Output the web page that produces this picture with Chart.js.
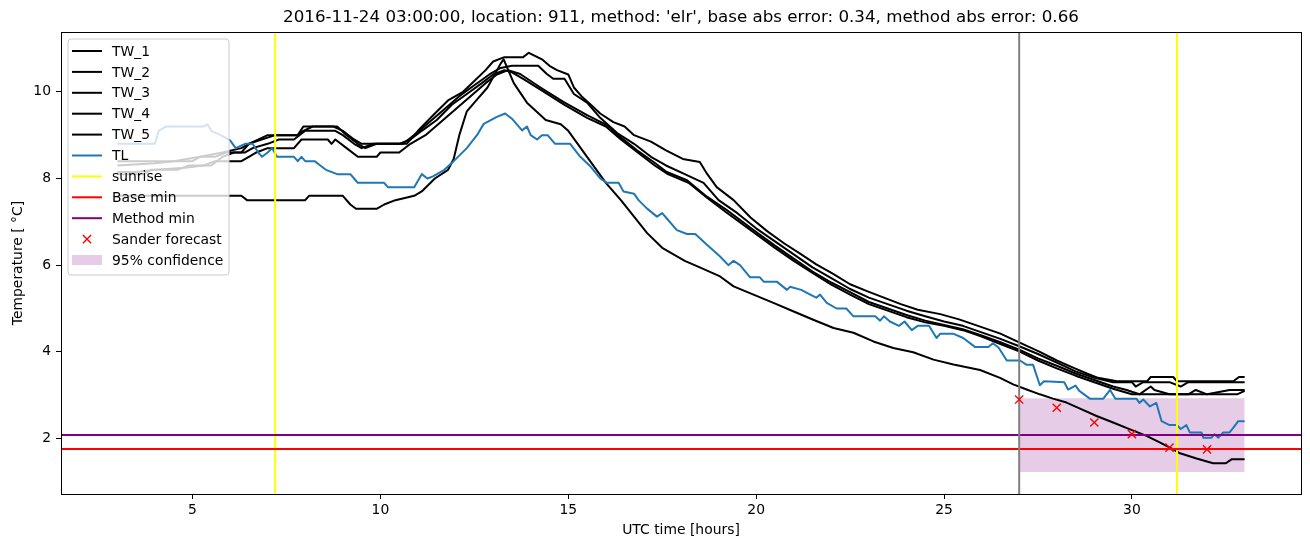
<!DOCTYPE html>
<html><head><meta charset="utf-8">
<script src="https://cdn.jsdelivr.net/npm/chart.js@4.4.0/dist/chart.umd.min.js"></script>
<style>html,body{margin:0;padding:0;background:#fff;}#wrap{width:1310px;height:547px;}</style>
</head><body><div id="wrap"><canvas id="c" width="1310" height="547"></canvas></div>
<script>
// ---------------- data ----------------
const chartTitle = "2016-11-24 03:00:00, location: 911, method: 'elr', base abs error: 0.34, method abs error: 0.66";
const xLabel = "UTC time [hours]";
const yLabel = "Temperature [ \u00B0C]";
const xTicks = [5, 10, 15, 20, 25, 30];
const yTicks = [2, 4, 6, 8, 10];

const tw1 = [[3,8.4],[5.0,8.4],[5.2,8.5],[5.8,8.6],[6.3,8.7],[6.5,8.8],[7.0,9.0],[7.8,9.0],[7.95,9.2],[8.85,9.2],[9.1,9.0],[9.4,8.8],[9.6,8.7],[9.9,8.8],[10.7,8.8],[11.0,9.1],[11.45,9.5],[11.8,9.8],[12.2,10.0],[12.5,10.25],[12.8,10.5],[13.0,10.7],[13.3,10.8],[13.8,10.8],[13.95,10.9],[14.3,10.75],[14.5,10.6],[14.7,10.5],[15.0,10.4],[15.15,10.1],[15.35,9.9],[15.6,9.7],[15.85,9.5],[16.2,9.3],[16.5,9.2],[16.75,9.0],[17.2,8.85],[17.6,8.65],[18.05,8.45],[18.5,8.38],[18.7,8.1],[18.95,7.8],[19.4,7.5],[19.85,7.1],[20.3,6.78],[20.75,6.5],[21.2,6.25],[21.6,6.02],[22.05,5.8],[22.5,5.56],[22.95,5.4],[23.4,5.25],[23.85,5.1],[24.3,4.97],[24.9,4.87],[25.4,4.75],[26.0,4.57],[26.5,4.42],[27.0,4.22],[27.55,4.0],[28.0,3.8],[28.45,3.63],[28.8,3.5],[29.1,3.4],[29.6,3.32],[30.4,3.32],[30.5,3.42],[31.1,3.42],[31.2,3.32],[32.7,3.32],[32.85,3.42],[33,3.42]];
const tw2 = [[3,8.3],[4.0,8.35],[4.5,8.4],[5.2,8.5],[5.6,8.5],[5.9,8.6],[6.3,8.6],[6.5,8.8],[7.2,9.0],[7.8,9.0],[7.95,9.1],[8.2,9.2],[8.75,9.2],[9.0,9.1],[9.3,8.9],[9.5,8.8],[10.6,8.8],[10.9,9.0],[11.3,9.3],[11.7,9.6],[12.1,9.9],[12.5,10.15],[12.9,10.4],[13.2,10.55],[13.5,10.6],[14.2,10.6],[14.43,10.41],[14.6,10.3],[14.9,10.3],[15.15,9.95],[15.5,9.75],[15.85,9.4],[16.3,9.05],[16.75,8.8],[17.2,8.5],[17.6,8.3],[18.1,8.1],[18.6,7.9],[19.0,7.5],[19.5,7.2],[20,6.85],[20.5,6.55],[21,6.25],[21.5,5.95],[22,5.7],[22.5,5.45],[23,5.25],[23.5,5.1],[24,4.95],[24.5,4.82],[25,4.7],[25.5,4.6],[26,4.45],[26.5,4.3],[27,4.13],[27.5,3.95],[28,3.75],[28.5,3.55],[29,3.4],[29.5,3.3],[30,3.3],[30.1,3.2],[30.3,3.3],[31,3.3],[31.3,3.2],[31.5,3.3],[33,3.3]];
const tw3 = [[3,8.15],[3.5,8.15],[4.0,8.2],[4.8,8.25],[5.3,8.3],[5.6,8.4],[6.3,8.4],[6.5,8.5],[6.7,8.6],[7.0,8.7],[7.7,8.7],[7.9,8.9],[8.6,8.9],[8.7,8.8],[8.8,8.9],[9.1,8.7],[9.4,8.5],[9.9,8.5],[10.0,8.6],[10.5,8.6],[10.8,8.8],[11.2,9.0],[11.6,9.3],[12.0,9.6],[12.4,9.9],[12.8,10.2],[13.1,10.4],[13.4,10.5],[13.72,10.41],[14.26,10.1],[14.88,9.76],[15.5,9.46],[16.03,9.23],[16.38,8.96],[16.83,8.65],[17.27,8.38],[17.62,8.15],[18.16,7.96],[18.69,7.58],[19.22,7.27],[19.93,6.81],[20.5,6.45],[21,6.15],[21.5,5.85],[22,5.6],[22.5,5.38],[23,5.15],[23.5,5.0],[24,4.85],[24.5,4.72],[25,4.62],[25.5,4.52],[26,4.38],[26.5,4.22],[27,4.05],[27.5,3.85],[28,3.68],[28.5,3.5],[29,3.35],[29.5,3.2],[29.86,3.12],[30.2,3.02],[30.5,3.2],[30.6,3.12],[31,3.02],[31.5,3.02],[31.7,3.12],[32,3.02],[32.6,3.12],[33,3.12]];
const tw4 = [[3,8.1],[3.7,8.1],[3.9,8.2],[4.6,8.2],[4.9,8.3],[5.5,8.3],[5.8,8.5],[6.1,8.6],[6.4,8.6],[6.6,8.7],[7.0,8.8],[7.3,8.9],[7.7,8.9],[8.0,9.1],[8.8,9.1],[9.0,9.0],[9.3,8.8],[9.5,8.7],[9.8,8.8],[10.5,8.8],[10.8,8.9],[11.1,9.1],[11.5,9.35],[11.9,9.7],[12.3,9.95],[12.7,10.2],[13.0,10.4],[13.3,10.5],[13.5,10.45],[13.8,10.3],[14.26,10.05],[14.9,9.7],[15.5,9.4],[16.0,9.2],[16.4,8.9],[16.85,8.6],[17.3,8.3],[17.65,8.1],[18.2,7.9],[18.7,7.55],[19.2,7.22],[19.9,6.78],[20.5,6.4],[21,6.1],[21.5,5.82],[22,5.55],[22.5,5.32],[23,5.1],[23.5,4.95],[24,4.8],[24.5,4.68],[25,4.6],[25.5,4.5],[26,4.35],[26.5,4.18],[27,4.01],[27.5,3.8],[28,3.62],[28.5,3.45],[29,3.3],[29.5,3.15],[30,3.02],[31,3.02],[32,3.02],[32.8,3.02],[33,3.1]];
const tw5 = [[3,7.6],[6.3,7.6],[6.45,7.5],[8.0,7.5],[8.1,7.6],[9.0,7.6],[9.2,7.4],[9.35,7.3],[9.9,7.3],[10.1,7.4],[10.4,7.5],[10.9,7.6],[11.1,7.7],[11.45,8.0],[11.8,8.2],[11.95,8.45],[12.1,9.0],[12.3,9.55],[12.5,9.75],[12.85,10.1],[13.2,10.65],[13.28,10.75],[13.55,10.2],[13.9,9.75],[14.4,9.35],[14.8,9.25],[15.0,9.1],[15.5,8.5],[16.0,7.9],[16.4,7.5],[16.75,7.12],[17.1,6.74],[17.5,6.4],[18.1,6.1],[18.5,5.95],[19.04,5.74],[19.4,5.51],[19.93,5.32],[20.46,5.13],[21.0,4.93],[21.52,4.74],[22.06,4.55],[22.59,4.44],[23.12,4.24],[23.65,4.09],[24.18,3.99],[24.72,3.82],[25.25,3.71],[25.96,3.58],[26.49,3.4],[26.84,3.25],[27.2,3.13],[27.55,3.02],[27.9,2.92],[28.26,2.83],[28.62,2.69],[29.06,2.52],[29.5,2.37],[29.95,2.21],[30.39,2.06],[30.74,1.91],[31.1,1.75],[31.28,1.66],[31.72,1.54],[32.16,1.43],[32.5,1.43],[32.65,1.52],[33,1.52]];
const tl = [[3,8.8],[4.0,8.8],[4.1,9.1],[4.3,9.2],[5.3,9.2],[5.4,9.25],[5.5,9.1],[5.75,9.0],[6.0,8.88],[6.15,8.7],[6.4,8.8],[6.6,8.8],[6.75,8.6],[6.85,8.5],[7.0,8.6],[7.12,8.7],[7.25,8.5],[7.7,8.5],[7.8,8.4],[7.9,8.5],[8.0,8.4],[8.25,8.4],[8.4,8.3],[8.55,8.2],[8.85,8.1],[9.2,8.1],[9.3,8.0],[9.4,7.9],[10.1,7.9],[10.2,7.8],[10.9,7.8],[11.1,8.1],[11.25,8.0],[11.4,8.05],[11.7,8.2],[11.95,8.4],[12.3,8.7],[12.57,9.0],[12.75,9.26],[13.1,9.42],[13.32,9.5],[13.5,9.38],[13.77,9.11],[13.9,9.2],[14.0,9.0],[14.17,8.9],[14.3,9.0],[14.45,9.0],[14.65,8.8],[15.05,8.8],[15.32,8.5],[15.6,8.27],[15.85,8.0],[16.03,7.9],[16.34,7.9],[16.47,7.7],[16.75,7.65],[16.87,7.5],[17.09,7.31],[17.36,7.12],[17.5,7.2],[17.6,7.1],[17.89,6.81],[18.16,6.72],[18.38,6.72],[18.69,6.47],[19.04,6.2],[19.26,6.0],[19.4,6.1],[19.57,6.0],[19.84,5.72],[20.1,5.72],[20.2,5.62],[20.55,5.62],[20.82,5.43],[20.9,5.5],[21.2,5.43],[21.44,5.32],[21.6,5.25],[21.7,5.32],[21.88,5.13],[22.14,5.0],[22.4,5.0],[22.59,4.82],[23.17,4.82],[23.3,4.72],[23.4,4.82],[23.56,4.7],[23.8,4.6],[23.95,4.7],[24.14,4.5],[24.3,4.6],[24.6,4.6],[24.8,4.32],[24.9,4.42],[25.24,4.42],[25.51,4.32],[25.83,4.11],[26.18,4.11],[26.3,4.2],[26.45,4.1],[26.67,3.8],[27.02,3.8],[27.2,3.7],[27.37,3.7],[27.55,3.23],[27.66,3.32],[28.2,3.3],[28.3,3.13],[28.5,3.22],[28.6,3.1],[28.88,2.92],[29.24,2.92],[29.42,3.12],[29.56,2.92],[30.12,2.92],[30.2,2.82],[30.3,2.9],[30.48,2.74],[30.65,2.82],[30.79,2.4],[31.0,2.31],[31.2,2.31],[31.3,2.22],[31.45,2.31],[31.54,2.14],[31.85,2.14],[31.9,2.02],[32.12,2.02],[32.2,2.1],[32.3,2.02],[32.43,2.14],[32.6,2.14],[32.7,2.25],[32.83,2.4],[33.0,2.4]];

const sunriseHours = [7.2, 31.2];
const forecastHour = 27;
const baseMin = 1.76;
const methodMin = 2.08;
const sanderHours = [27, 28, 29, 30, 31, 32];
const sanderTemp = [2.90, 2.71, 2.37, 2.10, 1.79, 1.75];
const confHours = [27, 33];
const confLow = [1.23, 1.23];
const confHigh = [2.93, 2.93];

// ---------------- chart ----------------
const X_MIN = 1.5, X_MAX = 34.5, Y_MIN = 0.72, Y_MAX = 11.38;
const FONT = "'DejaVu Sans', 'Liberation Sans', sans-serif";
const pts = a => a.map(p => ({x: p[0], y: p[1]}));
const vline = x => [{x: x, y: Y_MIN}, {x: x, y: Y_MAX}];
const hline = y => [{x: X_MIN, y: y}, {x: X_MAX, y: y}];

const lineDs = (label, data, color, legend, order) => ({
  label, data, borderColor: color, backgroundColor: color, borderWidth: 2,
  pointRadius: 0, fill: false, tension: 0, order, legendKind: legend ? 'line' : null
});

let ord = 100;
const datasets = [
  {label: 'confLow', data: confHours.map((h, i) => ({x: h, y: confLow[i]})), borderWidth: 0, pointRadius: 0, fill: false, order: 200, showLine: true, borderColor: 'rgba(0,0,0,0)'},
  {label: '95% confidence', data: confHours.map((h, i) => ({x: h, y: confHigh[i]})), borderWidth: 0, pointRadius: 0,
   fill: 0, backgroundColor: 'rgba(128,0,128,0.2)', borderColor: 'rgba(0,0,0,0)', order: 199, legendKind: 'patch', legendIndex: 10},
  Object.assign(lineDs('TW_1', pts(tw1), '#000000', true, ord--), {legendIndex: 0}),
  Object.assign(lineDs('TW_2', pts(tw2), '#000000', true, ord--), {legendIndex: 1}),
  Object.assign(lineDs('TW_3', pts(tw3), '#000000', true, ord--), {legendIndex: 2}),
  Object.assign(lineDs('TW_4', pts(tw4), '#000000', true, ord--), {legendIndex: 3}),
  Object.assign(lineDs('TW_5', pts(tw5), '#000000', true, ord--), {legendIndex: 4}),
  Object.assign(lineDs('TL', pts(tl), '#1f77b4', true, ord--), {legendIndex: 5}),
  Object.assign(lineDs('sunrise', vline(sunriseHours[0]), '#ffff00', true, ord--), {legendIndex: 6}),
  lineDs('sunrise 2', vline(sunriseHours[1]), '#ffff00', false, ord--),
  Object.assign(lineDs('Base min', hline(baseMin), '#ff0000', true, ord--), {legendIndex: 7}),
  Object.assign(lineDs('Method min', hline(methodMin), '#800080', true, ord--), {legendIndex: 8}),
  lineDs('forecast time', vline(forecastHour), '#808080', false, ord--),
  {label: 'Sander forecast', data: sanderHours.map((h, i) => ({x: h, y: sanderTemp[i]})), showLine: false,
   pointStyle: 'crossRot', pointRadius: 5.8, pointHoverRadius: 5.8, pointBorderWidth: 1.4, borderColor: '#ff0000',
   backgroundColor: '#ff0000', order: ord--, legendKind: 'marker', legendIndex: 9}
];

const decor = {
  id: 'decor',
  afterDatasetsDraw(chart) {
    const {ctx, chartArea: a} = chart;
    ctx.save();
    ctx.strokeStyle = '#000'; ctx.lineWidth = 1;
    ctx.strokeRect(Math.round(a.left) + 0.5, Math.round(a.top) + 0.5, Math.round(a.right - a.left), Math.round(a.bottom - a.top));
    ctx.restore();
  },
  afterDraw(chart) {
    const {ctx, chartArea: a} = chart;
    ctx.save();
    // title
    ctx.fillStyle = '#000';
    ctx.font = '16.7px ' + FONT;
    ctx.textAlign = 'center'; ctx.textBaseline = 'middle';
    ctx.fillText(chartTitle, (a.left + a.right) / 2, 18);
    // legend
    const lx = a.left + 7, ly = a.top + 7, lw = 161, lh = 236, r = 3;
    ctx.beginPath();
    ctx.moveTo(lx + r, ly); ctx.lineTo(lx + lw - r, ly); ctx.arcTo(lx + lw, ly, lx + lw, ly + r, r);
    ctx.lineTo(lx + lw, ly + lh - r); ctx.arcTo(lx + lw, ly + lh, lx + lw - r, ly + lh, r);
    ctx.lineTo(lx + r, ly + lh); ctx.arcTo(lx, ly + lh, lx, ly + lh - r, r);
    ctx.lineTo(lx, ly + r); ctx.arcTo(lx, ly, lx + r, ly, r); ctx.closePath();
    ctx.fillStyle = 'rgba(255,255,255,0.8)'; ctx.fill();
    ctx.strokeStyle = '#cccccc'; ctx.lineWidth = 1; ctx.stroke();
    const items = chart.data.datasets.filter(d => d.legendKind).sort((p, q) => p.legendIndex - q.legendIndex);
    ctx.font = '13.9px ' + FONT; ctx.textAlign = 'left'; ctx.textBaseline = 'middle';
    items.forEach((d, i) => {
      const cy = ly + 12 + i * 20.9;
      const hx0 = lx + 4, hx1 = lx + 34;
      if (d.legendKind === 'line') {
        ctx.strokeStyle = d.borderColor; ctx.lineWidth = 2;
        ctx.beginPath(); ctx.moveTo(hx0, cy); ctx.lineTo(hx1, cy); ctx.stroke();
      } else if (d.legendKind === 'marker') {
        const cx = (hx0 + hx1) / 2, s = 4.1;
        ctx.strokeStyle = d.borderColor; ctx.lineWidth = 1.4;
        ctx.beginPath(); ctx.moveTo(cx - s, cy - s); ctx.lineTo(cx + s, cy + s);
        ctx.moveTo(cx - s, cy + s); ctx.lineTo(cx + s, cy - s); ctx.stroke();
      } else if (d.legendKind === 'patch') {
        ctx.fillStyle = d.backgroundColor; ctx.fillRect(hx0, cy - 5, hx1 - hx0, 10);
      }
      ctx.fillStyle = '#000';
      ctx.fillText(d.label, lx + 44, cy + 1);
    });
    ctx.restore();
  }
};

new Chart(document.getElementById('c'), {
  type: 'line',
  data: {datasets},
  options: {
    responsive: false, animation: false, devicePixelRatio: 1,
    layout: {padding: {top: 32, right: 9, left: 0, bottom: 0}},
    plugins: {legend: {display: false}, title: {display: false}, tooltip: {enabled: false}},
    elements: {line: {borderCapStyle: 'butt', borderJoinStyle: 'round'}},
    scales: {
      x: {
        type: 'linear', min: X_MIN, max: X_MAX,
        afterBuildTicks: s => { s.ticks = xTicks.map(v => ({value: v})); },
        afterFit: s => { s.height = 53; },
        ticks: {color: '#000', font: {family: FONT, size: 13.9}, padding: 3, maxRotation: 0, autoSkip: false},
        grid: {display: true, drawOnChartArea: false, drawTicks: true, tickLength: 5, tickColor: '#000', tickWidth: 1},
        border: {display: false},
        title: {display: true, text: xLabel, color: '#000', font: {family: FONT, size: 13.9}, padding: {top: 0, bottom: 8}}
      },
      y: {
        type: 'linear', min: Y_MIN, max: Y_MAX,
        afterBuildTicks: s => { s.ticks = yTicks.map(v => ({value: v})); },
        afterFit: s => { s.width = 61; },
        ticks: {color: '#000', font: {family: FONT, size: 13.9}, padding: 5, autoSkip: false},
        grid: {display: true, drawOnChartArea: false, drawTicks: true, tickLength: 5, tickColor: '#000', tickWidth: 1},
        border: {display: false},
        title: {display: true, text: yLabel, color: '#000', font: {family: FONT, size: 13.9}, padding: {top: 10, bottom: 0}}
      }
    }
  },
  plugins: [decor]
});
</script></body></html>
